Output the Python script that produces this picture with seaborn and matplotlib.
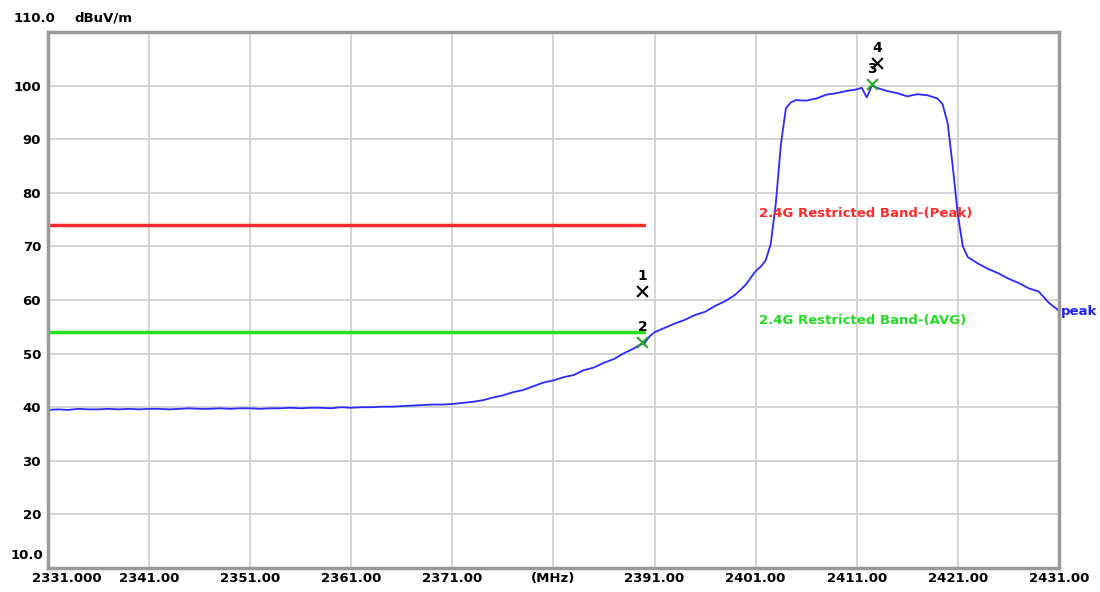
"""
Restricted band edge scan (2.4G) - peak trace with limit lines and markers.
"""

import matplotlib
matplotlib.use("Agg")
import matplotlib.pyplot as plt
import seaborn as sns
import pandas as pd

# Trace (MHz, dBuV/m)
freq_mhz = [
    2331, 2332, 2333, 2334, 2335, 2336, 2337, 2338, 2339, 2340,
    2341, 2342, 2343, 2344, 2345, 2346, 2347, 2348, 2349, 2350,
    2351, 2352, 2353, 2354, 2355, 2356, 2357, 2358, 2359, 2360,
    2361, 2362, 2363, 2364, 2365, 2366, 2367, 2368, 2369, 2370,
    2371, 2372, 2373, 2374, 2375, 2376, 2377, 2378, 2379, 2380,
    2381, 2382, 2383, 2384, 2385, 2386, 2387, 2388, 2389, 2389.5,
    2390, 2390.5, 2391, 2392, 2393, 2394, 2395, 2396, 2397, 2398,
    2399, 2400, 2401, 2401.5, 2402, 2402.5, 2403, 2403.5, 2404, 2404.5,
    2405, 2406, 2407, 2408, 2409, 2410, 2411, 2411.5, 2412, 2412.5,
    2413, 2414, 2415, 2416, 2417, 2418, 2419, 2419.5, 2420, 2420.5,
    2421, 2421.5, 2422, 2423, 2424, 2425, 2426, 2427, 2428, 2429,
    2430, 2431,
]
level_dbuv = [
    39.5, 39.6, 39.5, 39.7, 39.6, 39.6, 39.7, 39.6, 39.7, 39.6,
    39.7, 39.7, 39.6, 39.7, 39.8, 39.7, 39.7, 39.8, 39.7, 39.8,
    39.8, 39.7, 39.8, 39.8, 39.9, 39.8, 39.9, 39.9, 39.8, 40.0,
    39.9, 40.0, 40.0, 40.1, 40.1, 40.2, 40.3, 40.4, 40.5, 40.5,
    40.6, 40.8, 41.0, 41.3, 41.8, 42.2, 42.8, 43.2, 43.9, 44.6,
    45.0, 45.6, 46.0, 46.9, 47.4, 48.3, 49.0, 50.1, 51.0, 51.6,
    51.9, 53.2, 54.0, 54.8, 55.6, 56.3, 57.2, 57.8, 58.9, 59.8,
    61.0, 62.8, 65.4, 66.2, 67.4, 70.5, 78.0, 89.0, 95.8, 96.9,
    97.3, 97.2, 97.6, 98.3, 98.6, 99.0, 99.3, 99.6, 97.8, 100.0,
    99.6, 99.0, 98.6, 98.0, 98.4, 98.2, 97.6, 96.5, 93.0, 85.0,
    76.0, 70.0, 68.0, 66.8, 65.8, 65.0, 64.0, 63.2, 62.2, 61.6,
    59.5, 58.0,
]

# Limit lines
limit_start = 2331
limit_end = 2390
peak_limit = 74.0
avg_limit = 54.0

# Markers
marker_ids = ["1", "2", "3", "4"]
marker_freq = [2389.8, 2389.8, 2412.5, 2413.0]
marker_level = [61.7, 52.1, 100.3, 104.3]
marker_colors = ["black", "#22aa22", "#22aa22", "black"]

# Axis labels
x_ticks = [2331, 2341, 2351, 2361, 2371, 2381, 2391, 2401, 2411, 2421, 2431]
x_labels = ["", "2341.00", "2351.00", "2361.00", "2371.00", "(MHz)",
            "2391.00", "2401.00", "2411.00", "2421.00", "2431.00"]
y_ticks = [10, 20, 30, 40, 50, 60, 70, 80, 90, 100, 110]
y_labels = ["", "20", "30", "40", "50", "60", "70", "80", "90", "100", ""]

sns.set_theme(style="whitegrid")
plt.rcParams["font.family"] = ["DejaVu Sans"]
plt.rcParams["font.weight"] = "bold"
plt.rcParams["text.color"] = "black"
plt.rcParams["xtick.color"] = "black"
plt.rcParams["ytick.color"] = "black"

FS = 9.5

trace = pd.DataFrame({"freq": freq_mhz, "level": level_dbuv})

fig = plt.figure(figsize=(11, 5.92), dpi=100)
ax = fig.add_axes([0.0436, 0.0405, 0.919, 0.9054])

# Peak trace
sns.lineplot(data=trace, x="freq", y="level", color="#2b2bff",
             linewidth=1.3, ax=ax)

# Limit lines
ax.plot([limit_start, limit_end], [peak_limit, peak_limit],
        color="#ff2a2a", linewidth=2.5)
ax.plot([limit_start, limit_end], [avg_limit, avg_limit],
        color="#22e022", linewidth=2.5)

ax.text(2401.3, 76.2, "2.4G Restricted Band-(Peak)", color="#ff2a2a",
        fontsize=FS, fontweight="bold", va="center")
ax.text(2401.3, 56.2, "2.4G Restricted Band-(AVG)", color="#22dd22",
        fontsize=FS, fontweight="bold", va="center")
ax.text(2431.2, 57.8, "peak", color="#2020ff", fontsize=FS,
        fontweight="bold", va="center", ha="left")

# Markers with labels
for mid, fx, lv, col in zip(marker_ids, marker_freq, marker_level, marker_colors):
    ax.scatter([fx], [lv], marker="x", s=60, color=col, linewidths=1.5,
               zorder=5)
    ax.text(fx, lv + 1.5, mid, color="black", fontsize=FS + 0.5,
            fontweight="bold", ha="center", va="bottom")

ax.set_xlim(2331, 2431)
ax.set_ylim(10, 110)
ax.set_xticks(x_ticks)
ax.set_xticklabels(x_labels, fontsize=FS, fontweight="bold", color="black")
ax.set_yticks(y_ticks)
ax.set_yticklabels(y_labels, fontsize=FS, fontweight="bold", color="black")
ax.set_xlabel("")
ax.set_ylabel("")
ax.tick_params(axis="x", length=0, pad=3)
ax.tick_params(axis="y", length=0, pad=5)

ax.grid(True, color="#d4d4d4", linewidth=1.4)
for side in ["left", "right", "top", "bottom"]:
    ax.spines[side].set_color("#9a9a9a")
    ax.spines[side].set_linewidth(2.5)
    ax.spines[side].set_visible(True)

# Odd corner labels of the analyser screen
ax.text(0.007, 1.026, "110.0", transform=ax.transAxes, fontsize=FS,
        fontweight="bold", ha="right", va="center")
ax.text(0.026, 1.026, "dBuV/m", transform=ax.transAxes, fontsize=FS,
        fontweight="bold", ha="left", va="center")
ax.text(-0.005, 0.024, "10.0", transform=ax.transAxes, fontsize=FS,
        fontweight="bold", ha="right", va="center")
ax.text(0.019, -0.008, "2331.000", transform=ax.transAxes, fontsize=FS,
        fontweight="bold", ha="center", va="top")

fig.savefig("out.png", dpi=100)
plt.close(fig)
